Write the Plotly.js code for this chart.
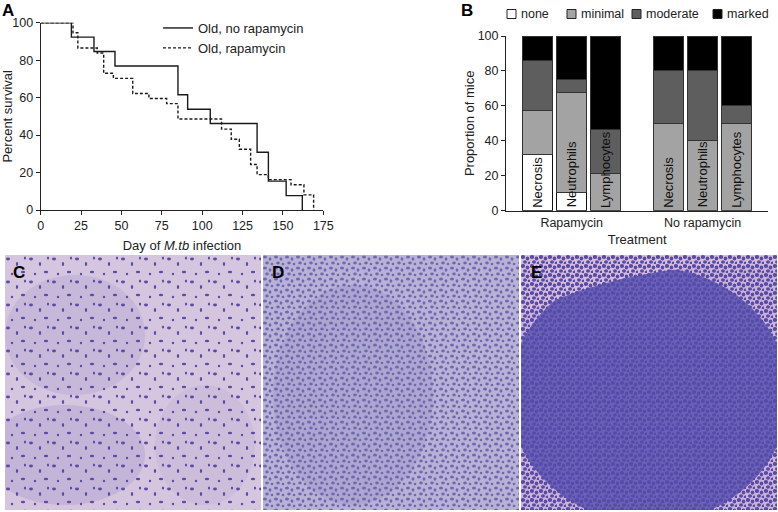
<!DOCTYPE html>
<html>
<head>
<meta charset="utf-8">
<script src="https://cdn.plot.ly/plotly-3.0.1.min.js"></script>
<style>
  html, body { margin: 0; padding: 0; background: #fff; }
  #plot { width: 778px; height: 512px; }
</style>
</head>
<body>
<div id="plot"></div>
<script>
// Panel A: Kaplan-Meier survival (percent) by day of infection
var daysNoRapa = [0, 19, 33, 46, 85, 91, 105, 134, 141, 152, 162];
var survNoRapa = [100, 92.3, 84.6, 76.9, 61.5, 53.8, 46.2, 30.8, 15.4, 7.7, 0];

var daysRapa = [0, 20, 23, 35, 39, 45, 57, 67, 78, 85, 112, 118, 123, 130, 134, 141, 155, 163, 169];
var survRapa = [100, 94.6, 86.5, 83.8, 73.0, 70.3, 62.2, 59.5, 56.8, 48.6, 43.2, 37.8, 32.4, 24.3, 18.9, 16.2, 13.5, 8.1, 0];

// Panel B: histology scores, proportion of mice
var groups = ["Rapamycin", "No rapamycin"];
var features = ["Necrosis", "Neutrophils", "Lymphocytes"];
var scoreNone     = [32.1, 10.7, 0,    0,  0,  0];
var scoreMinimal  = [25.0, 57.1, 21.4, 50, 40, 50];
var scoreModerate = [28.6, 7.2,  25.0, 30, 40, 10];
var scoreMarked   = [14.3, 25.0, 53.6, 20, 20, 40];

// bar positions: one unit per bar, groups separated by a gap
var groupGap = 3.85;
var barX = [];
var barLabel = [];
groups.forEach(function (g, gi) {
  features.forEach(function (f, fi) {
    barX.push(gi * groupGap + fi);
    barLabel.push(f);
  });
});
var groupCenters = groups.map(function (g, gi) { return gi * groupGap + 1; });

var font = "Liberation Sans, Arial, sans-serif";
var ink = "#222";
var W = 778, H = 512;
function px(x) { return x / W; }
function py(y) { return 1 - y / H; }

var traces = [
  {
    x: daysNoRapa, y: survNoRapa, name: "Old, no rapamycin",
    type: "scatter", mode: "lines", line: {shape: "hv", color: "#1a1a1a", width: 1.4},
    xaxis: "x", yaxis: "y"
  },
  {
    x: daysRapa, y: survRapa, name: "Old, rapamycin",
    type: "scatter", mode: "lines", line: {shape: "hv", color: "#1a1a1a", width: 1.4, dash: "3px,2px"},
    xaxis: "x", yaxis: "y"
  }
];

var scoreSets = [
  {name: "none", y: scoreNone, color: "#ffffff", edge: "#111"},
  {name: "minimal", y: scoreMinimal, color: "#a3a3a3", edge: "#333"},
  {name: "moderate", y: scoreModerate, color: "#5e5e5e", edge: "#333"},
  {name: "marked", y: scoreMarked, color: "#000000", edge: "#333"}
];
scoreSets.forEach(function (s) {
  traces.push({
    x: barX, y: s.y, name: s.name, type: "bar", width: 0.88,
    marker: {color: s.color, line: {color: s.edge, width: 1}},
    xaxis: "x2", yaxis: "y2", showlegend: false, hoverinfo: "y"
  });
});

// rotated labels sitting on each bar
var annotations = barX.map(function (x, i) {
  return {
    x: x, y: 0, xref: "x2", yref: "y2", text: barLabel[i], textangle: -90,
    showarrow: false, xanchor: "center", yanchor: "bottom", yshift: 1,
    font: {family: font, size: 13, color: "#111"}
  };
});

// compact key for panel B (Prism style: small square, text right beside it)
var keyLeft = [507, 567, 632, 713];
var shapes = [];
scoreSets.forEach(function (s, i) {
  shapes.push({
    type: "rect", xref: "paper", yref: "paper",
    x0: px(keyLeft[i]), x1: px(keyLeft[i] + 9), y0: py(18.5), y1: py(9.5),
    fillcolor: s.color, line: {color: "#222", width: 1}
  });
  annotations.push({
    text: s.name, xref: "paper", yref: "paper", x: px(keyLeft[i] + 12), y: py(14),
    xanchor: "left", yanchor: "middle", showarrow: false,
    font: {family: font, size: 12.5, color: ink}
  });
});

function panelLabel(t, x, y) {
  return {
    text: "<b>" + t + "</b>", xref: "paper", yref: "paper",
    x: px(x), y: py(y), xanchor: "left", yanchor: "top",
    showarrow: false, font: {family: font, size: 17, color: "#000"}
  };
}
annotations.push(panelLabel("A", 0, -1));
annotations.push(panelLabel("B", 459, -1));

// histology panels, stylised as stained tissue
function tissueSvg(bg, dot, tile, dots, extra) {
  var circles = dots.map(function (d) {
    return '<ellipse cx="' + d[0] + '" cy="' + d[1] + '" rx="' + d[2] + '" ry="' + d[3] + '" fill="' + dot + '"/>';
  }).join("");
  var svg = '<svg xmlns="http://www.w3.org/2000/svg" width="256" height="255" viewBox="0 0 256 255">' +
    '<defs><pattern id="p" width="' + tile + '" height="' + tile + '" patternUnits="userSpaceOnUse">' +
    circles + '</pattern></defs>' +
    '<rect width="256" height="255" fill="' + bg + '"/>' + (extra || "") +
    '<rect width="256" height="255" fill="url(#p)"/></svg>';
  return "data:image/svg+xml;utf8," + encodeURIComponent(svg);
}

var svgC = tissueSvg("#d6c5de", "#5a4ca6", 23,
  [[3, 4, 2.0, 1.4], [12, 9, 1.2, 2.0], [18, 17, 2.2, 1.3], [7, 19, 1.2, 1.2], [20, 3, 1.1, 1.6]],
  '<ellipse cx="70" cy="80" rx="70" ry="60" fill="#bcaed5" opacity="0.6"/>' +
  '<ellipse cx="60" cy="200" rx="80" ry="50" fill="#b8a9d2" opacity="0.6"/>' +
  '<ellipse cx="200" cy="190" rx="50" ry="60" fill="#c4b5d8" opacity="0.5"/>');
var svgD = tissueSvg("#b8b2d6", "#7068b0", 11,
  [[2, 2, 2.0, 1.6], [7, 4, 1.4, 1.8], [4, 8, 1.8, 1.4], [9, 9, 1.3, 1.3]],
  '<ellipse cx="90" cy="140" rx="80" ry="110" fill="#a39ccc" opacity="0.55"/>');
var svgE = tissueSvg("#cdb2d5", "#554ca9", 9,
  [[2, 2, 2.2, 1.9], [6.5, 3.5, 1.8, 2.1], [4, 7, 2.0, 1.8], [8.2, 8, 1.5, 1.6]],
  '<ellipse cx="128" cy="140" rx="140" ry="128" fill="#6a60b7"/>' +
  '<path d="M0,0 L256,0 L256,10 C180,10 100,12 0,60 Z" fill="#d9bcd8"/>');

function tissueImage(src, x, y) {
  return {
    source: src, xref: "paper", yref: "paper",
    x: px(x), y: py(y), sizex: 256 / W, sizey: 255 / H,
    xanchor: "left", yanchor: "top", sizing: "stretch", layer: "below"
  };
}
var images = [
  tissueImage(svgC, 5, 255),
  tissueImage(svgD, 263, 255),
  tissueImage(svgE, 521, 255)
];
annotations.push(panelLabel("C", 11, 261));
annotations.push(panelLabel("D", 270, 261));
annotations.push(panelLabel("E", 529, 261));

var axisCommon = {
  showgrid: false, zeroline: false, showline: true, linecolor: ink, linewidth: 1,
  ticks: "outside", ticklen: 4, tickcolor: ink, automargin: false,
  tickfont: {family: font, size: 12.5, color: ink}
};
var titleFont = {family: font, size: 13, color: ink};

var layout = {
  width: W, height: H,
  margin: {l: 0, r: 0, t: 0, b: 0, autoexpand: false},
  paper_bgcolor: "#fff", plot_bgcolor: "rgba(0,0,0,0)",
  font: {family: font, color: ink},
  barmode: "stack",
  showlegend: true,
  xaxis: Object.assign({}, axisCommon, {
    domain: [px(40.7), px(323.3)], range: [0, 175], dtick: 25, anchor: "y",
    title: {text: "Day of <i>M.tb</i> infection", font: titleFont, standoff: 8}
  }),
  yaxis: Object.assign({}, axisCommon, {
    domain: [py(210), py(22.7)], range: [0, 100], dtick: 20, anchor: "x",
    title: {text: "Percent survival", font: titleFont, standoff: 4}
  }),
  xaxis2: Object.assign({}, axisCommon, {
    domain: [px(506), px(768.3)], range: [-0.93, 6.78], anchor: "y2",
    ticks: "", tickvals: groupCenters, ticktext: groups,
    title: {text: "Treatment", font: titleFont, standoff: 6}
  }),
  yaxis2: Object.assign({}, axisCommon, {
    domain: [py(210.7), py(36)], range: [0, 100], dtick: 20, anchor: "x2",
    title: {text: "Proportion of mice", font: titleFont, standoff: 0}
  }),
  legend: {
    x: px(158), y: py(13), xanchor: "left", yanchor: "top",
    bgcolor: "rgba(0,0,0,0)", font: {family: font, size: 13, color: ink},
    tracegroupgap: 0, itemwidth: 30, traceorder: "normal"
  },
  annotations: annotations,
  shapes: shapes,
  images: images
};

Plotly.newPlot("plot", traces, layout, {displayModeBar: false, staticPlot: true});
</script>
</body>
</html>
